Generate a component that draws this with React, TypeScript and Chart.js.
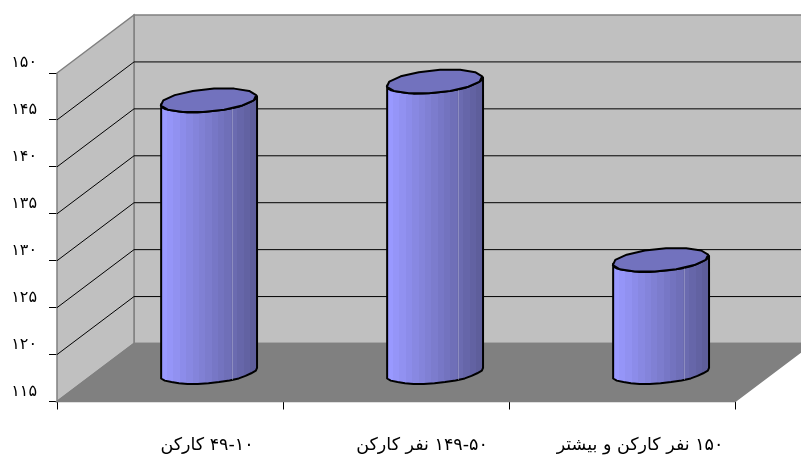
import React, { useEffect, useRef } from "react";
import { Chart, registerables } from "chart.js";

Chart.register(...registerables);

const categories = ["۴۹-۱۰ کارکن", "۱۴۹-۵۰ نفر کارکن", "۱۵۰ نفر کارکن و بیشتر"];
const values = [144, 146, 127];
const persianDigits = ["۰", "۱", "۲", "۳", "۴", "۵", "۶", "۷", "۸", "۹"];

const DEPTH_X = 77;
const DEPTH_Y = -58;
const WALL = "#C0C0C0";
const FLOOR = "#808080";
const EDGE = "#808080";
const TOP_FACE = "#7272BE";
const FONT = "'DejaVu Sans', sans-serif";
const LABEL_SHIFT = [37, 26, 18];
const LABEL_Y = 445;
const SHADE_LEFT = [153, 153, 255];
const SHADE_RIGHT = [94, 94, 155];
const SHADE_BANDS = 15;

const toPersian = (n: number) =>
  String(n).replace(/\d/g, (d) => persianDigits[Number(d)]);

function poly(ctx: CanvasRenderingContext2D, pts: number[][]) {
  ctx.beginPath();
  pts.forEach(([x, y], i) => (i ? ctx.lineTo(x, y) : ctx.moveTo(x, y)));
  ctx.closePath();
}

// Walls, floor and the gridlines that wrap round the side and back walls.
const boxPlugin = {
  id: "box3d",
  beforeDatasetsDraw(chart: any) {
    const { ctx, chartArea: a, scales } = chart;
    const { left: l, right: r, top: t, bottom: b } = a;
    const dx = DEPTH_X;
    const dy = DEPTH_Y;
    ctx.save();
    ctx.strokeStyle = EDGE;
    ctx.lineWidth = 1.5;
    ctx.fillStyle = WALL;
    poly(ctx, [[l + dx, t + dy], [r + dx, t + dy], [r + dx, b + dy], [l + dx, b + dy]]);
    ctx.fill();
    ctx.stroke();
    poly(ctx, [[l, t], [l + dx, t + dy], [l + dx, b + dy], [l, b]]);
    ctx.fill();
    ctx.stroke();
    ctx.fillStyle = FLOOR;
    poly(ctx, [[l, b], [r, b], [r + dx, b + dy], [l + dx, b + dy]]);
    ctx.fill();
    ctx.stroke();

    ctx.strokeStyle = "#000";
    ctx.lineWidth = 1;
    scales.y.ticks.forEach((tick: any) => {
      if (tick.value === scales.y.min || tick.value === scales.y.max) return;
      const y = scales.y.getPixelForValue(tick.value);
      ctx.beginPath();
      ctx.moveTo(l, y);
      ctx.lineTo(l + dx, y + dy);
      ctx.lineTo(r + dx, y + dy);
      ctx.stroke();
    });
    ctx.restore();
  },
};

function rimPath(
  ctx: CanvasRenderingContext2D,
  cx: number,
  cy: number,
  rx: number,
  bx: number,
  by: number,
  from: number,
  to: number,
  start: boolean
) {
  // The round section is faceted, slightly scalloped, and sheared along the depth.
  const steps = 14;
  for (let i = 0; i <= steps; i++) {
    const t = from + ((to - from) * i) / steps;
    const k = 1 + 0.018 * Math.sin(7 * t);
    const x = cx + k * (rx * Math.cos(t) + bx * Math.sin(t));
    const y = cy + k * by * Math.sin(t);
    if (i === 0 && start) ctx.moveTo(x, y);
    else ctx.lineTo(x, y);
  }
}

// Each bar element supplies x, y, base and width; it is drawn as a cylinder.
const cylinderPlugin = {
  id: "cylinders",
  afterDatasetsDraw(chart: any) {
    const { ctx } = chart;
    chart.getDatasetMeta(0).data.forEach((bar: any) => {
      const rx = bar.width / 2;
      const bx = 16;
      const by = -12;
      const cx = bar.x + DEPTH_X / 2;
      const topY = bar.y + DEPTH_Y / 2;
      const baseY = bar.base + DEPTH_Y / 2;
      const extent = Math.hypot(rx, bx);
      const phi = Math.atan2(bx, rx);

      ctx.save();
      ctx.lineJoin = "round";
      ctx.lineWidth = 2;
      ctx.strokeStyle = "#000";

      const grad = ctx.createLinearGradient(cx - extent, 0, cx + extent, 0);
      for (let i = 0; i < SHADE_BANDS; i++) {
        const u = i / (SHADE_BANDS - 1);
        const c = SHADE_LEFT.map((v, j) => Math.round(v + (SHADE_RIGHT[j] - v) * u));
        const col = `rgb(${c.join(",")})`;
        grad.addColorStop(i / SHADE_BANDS, col);
        grad.addColorStop((i + 1) / SHADE_BANDS, col);
      }

      // Body outline: near half of the top rim, then back along the near half of the base.
      ctx.beginPath();
      rimPath(ctx, cx, topY, rx, bx, by, phi + Math.PI, phi + 2 * Math.PI, true);
      rimPath(ctx, cx, baseY, rx, bx, by, phi + 2 * Math.PI, phi + Math.PI, false);
      ctx.closePath();
      ctx.fillStyle = grad;
      ctx.fill();
      ctx.stroke();

      // Pale seam near the shaded edge of the body.
      ctx.strokeStyle = "rgba(190,190,215,0.4)";
      ctx.lineWidth = 1;
      const seam = Math.round(cx + extent * 0.5) + 0.5;
      ctx.beginPath();
      ctx.moveTo(seam, topY + 6);
      ctx.lineTo(seam, baseY + 8);
      ctx.stroke();

      ctx.strokeStyle = "#000";
      ctx.lineWidth = 2;
      ctx.beginPath();
      rimPath(ctx, cx, topY, rx, bx, by, 0, Math.PI * 2, true);
      ctx.closePath();
      ctx.fillStyle = TOP_FACE;
      ctx.fill();
      ctx.stroke();
      ctx.restore();
    });
  },
};

// Category captions, each set off from its slot towards the back of the box.
const captionPlugin = {
  id: "captions",
  afterDraw(chart: any) {
    const { ctx, scales } = chart;
    ctx.save();
    ctx.fillStyle = "#000";
    ctx.font = `17.5px ${FONT}`;
    ctx.textAlign = "center";
    ctx.textBaseline = "middle";
    categories.forEach((label, i) => {
      ctx.fillText(label, scales.x.getPixelForTick(i) + LABEL_SHIFT[i], LABEL_Y);
    });
    ctx.restore();
  },
};

export default function App() {
  const ref = useRef<HTMLCanvasElement>(null);
  useEffect(() => {
    if (!ref.current) return;
    const chart = new Chart(ref.current, {
      type: "bar",
      data: {
        labels: categories,
        datasets: [
          {
            data: values,
            base: 115,
            backgroundColor: "rgba(0,0,0,0)",
            borderWidth: 0,
            categoryPercentage: 0.8,
            barPercentage: 0.5,
          },
        ],
      },
      plugins: [boxPlugin, cylinderPlugin, captionPlugin],
      options: {
        responsive: false,
        animation: false,
        layout: { padding: { top: 73, right: 66, left: 0, bottom: 0 } },
        plugins: { legend: { display: false }, tooltip: { enabled: false } },
        scales: {
          x: {
            afterFit: (s: any) => {
              s.height = 54.5;
            },
            grid: { drawOnChartArea: false, color: "#000", tickLength: 8 },
            border: { color: "#000", width: 1 },
            ticks: { display: false },
          },
          y: {
            min: 115,
            max: 150,
            afterFit: (s: any) => {
              s.width = 57;
            },
            grid: { drawOnChartArea: false, color: "#000", tickLength: 8 },
            border: { color: "#333", width: 1 },
            ticks: {
              stepSize: 5,
              color: "#000",
              font: { family: FONT, size: 16 },
              padding: 12,
              labelOffset: -10,
              callback: (v: any) => toPersian(Number(v)),
            },
          },
        },
      },
    });
    return () => chart.destroy();
  }, []);
  return (
    <div style={{ position: "fixed", left: 0, top: 0, width: 801, height: 456, background: "#fff" }}>
      <canvas ref={ref} width={801} height={456} dir="rtl" style={{ display: "block" }} />
    </div>
  );
}
